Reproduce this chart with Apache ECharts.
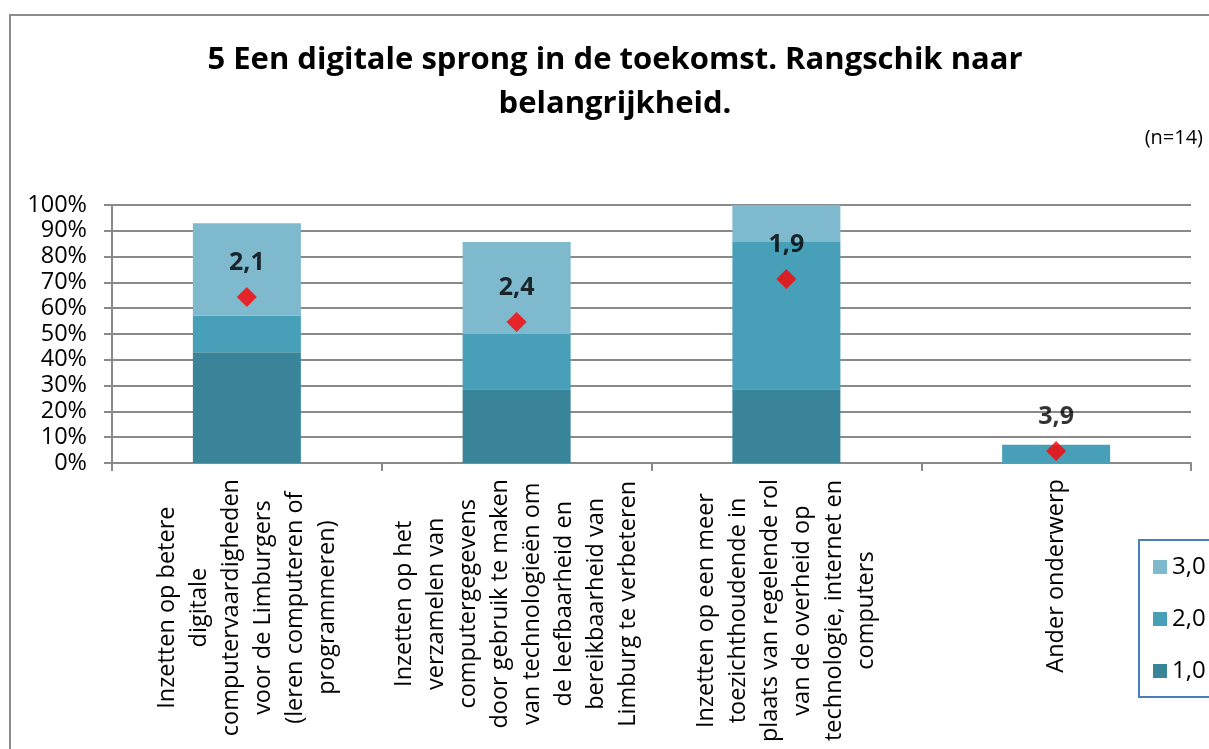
<!DOCTYPE html>
<html>
<head>
<meta charset="utf-8">
<title>Een digitale sprong in de toekomst</title>
<script src="https://cdn.jsdelivr.net/npm/echarts@6/dist/echarts.min.js"></script>
<style>
	html, body { margin: 0; padding: 0; background: #fff; }
	#main { width: 1209px; height: 749px; }
</style>
</head>
<body>
<div id="main"></div>
<script>
// categorieen (met regelafbrekingen zoals in het origineel)
var categories = [
	'Inzetten op betere\ndigitale\ncomputervaardigheden\nvoor de Limburgers\n(leren computeren of\nprogrammeren)',
	'Inzetten op het\nverzamelen van\ncomputergegevens\ndoor gebruik te maken\nvan technologieën om\nde leefbaarheid en\nbereikbaarheid van\nLimburg te verbeteren',
	'Inzetten op een meer\ntoezichthoudende in\nplaats van regelende rol\nvan de overheid op\ntechnologie, internet en\ncomputers',
	'Ander onderwerp'
];
// aandeel per rang (n=14)
var rank1 = [0.429, 0.286, 0.286, 0];
var rank2 = [0.143, 0.214, 0.571, 0.071];
var rank3 = [0.357, 0.357, 0.143, 0];
// gemiddelde rang
var means = [2.07, 2.36, 1.86, 3.86];

var font = 'Open Sans';
var chart = echarts.init(document.getElementById('main'));

function catLabel(value){
	return value.split('\n').map(function(l){ return '{c|' + l + '}'; }).join('\n');
}

var option = {
	backgroundColor: '#fff',
	animation: false,
	textStyle: { fontFamily: font },
	title: [
		{
			text: '5 Een digitale sprong in de toekomst. Rangschik naar\nbelangrijkheid.',
			left: 615,
			top: 38,
			padding: 0,
			textAlign: 'center',
			textStyle: {
				fontFamily: font,
				fontSize: 31,
				fontWeight: 'bold',
				lineHeight: 44,
				color: '#000'
			}
		},
		{
			text: '(n=14)',
			right: 6,
			top: 128,
			padding: 0,
			textStyle: {
				fontFamily: font,
				fontSize: 20,
				fontWeight: 'normal',
				color: '#000'
			}
		}
	],
	legend: {
		data: ['3,0', '2,0', '1,0'],
		orient: 'vertical',
		left: 1139,
		top: 540,
		padding: [15, 60, 14, 14],
		itemGap: 28,
		itemWidth: 14,
		itemHeight: 14,
		icon: 'rect',
		borderColor: '#4a7ebb',
		borderWidth: 2,
		borderRadius: 0,
		textStyle: {
			fontFamily: font,
			fontSize: 24,
			lineHeight: 24,
			color: '#000'
		}
	},
	grid: {
		left: 112,
		right: 18,
		top: 205,
		bottom: 286,
		outerBoundsMode: 'none'
	},
	graphic: [
		{
			type: 'rect',
			z: -10,
			silent: true,
			shape: { x: 10, y: 15, width: 1400, height: 1000 },
			style: { fill: 'none', stroke: '#8c8c8c', lineWidth: 2 }
		}
	],
	xAxis: {
		type: 'category',
		data: categories,
		axisLine: { show: true, lineStyle: { color: '#8a8a8a', width: 2 } },
		axisTick: { show: true, length: 8, lineStyle: { color: '#8a8a8a', width: 2 } },
		axisLabel: {
			interval: 0,
			rotate: 90,
			margin: 16,
			color: '#000',
			formatter: catLabel,
			rich: {
				c: {
					align: 'center',
					fontFamily: font,
					fontSize: 23.5,
					lineHeight: 32,
					color: '#000'
				}
			}
		}
	},
	yAxis: [
		{
			type: 'value',
			min: 0,
			max: 1,
			interval: 0.1,
			axisLine: { show: true, lineStyle: { color: '#8a8a8a', width: 2 } },
			axisTick: { show: true, length: 8, lineStyle: { color: '#8a8a8a', width: 2 } },
			splitLine: { show: true, lineStyle: { color: '#8a8a8a', width: 2 } },
			axisLabel: {
				margin: 25,
				color: '#000',
				fontFamily: font,
				fontSize: 23.5,
				formatter: function(v){
					return Math.round(v * 100) + '%';
				}
			}
		},
		{
			type: 'value',
			min: 1,
			max: 4,
			inverse: true,
			show: false,
			splitLine: { show: false }
		}
	],
	series: [
		{
			name: '1,0',
			type: 'bar',
			stack: 'rang',
			barWidth: 108,
			itemStyle: { color: '#3a8499' },
			data: rank1
		},
		{
			name: '2,0',
			type: 'bar',
			stack: 'rang',
			barWidth: 108,
			itemStyle: { color: '#48a0b8' },
			data: rank2
		},
		{
			name: '3,0',
			type: 'bar',
			stack: 'rang',
			barWidth: 108,
			itemStyle: { color: '#7eb9ce' },
			data: rank3
		},
		{
			name: 'Gemiddelde',
			type: 'scatter',
			yAxisIndex: 1,
			symbol: 'diamond',
			symbolSize: 20,
			itemStyle: { color: '#ff0000' },
			label: {
				show: true,
				position: 'top',
				distance: 12,
				fontFamily: font,
				fontSize: 25,
				fontWeight: 'bold',
				color: '#000',
				formatter: function(p){
					return p.value.toFixed(1).replace('.', ',');
				}
			},
			data: means
		}
	]
};

chart.setOption(option);
</script>
</body>
</html>
